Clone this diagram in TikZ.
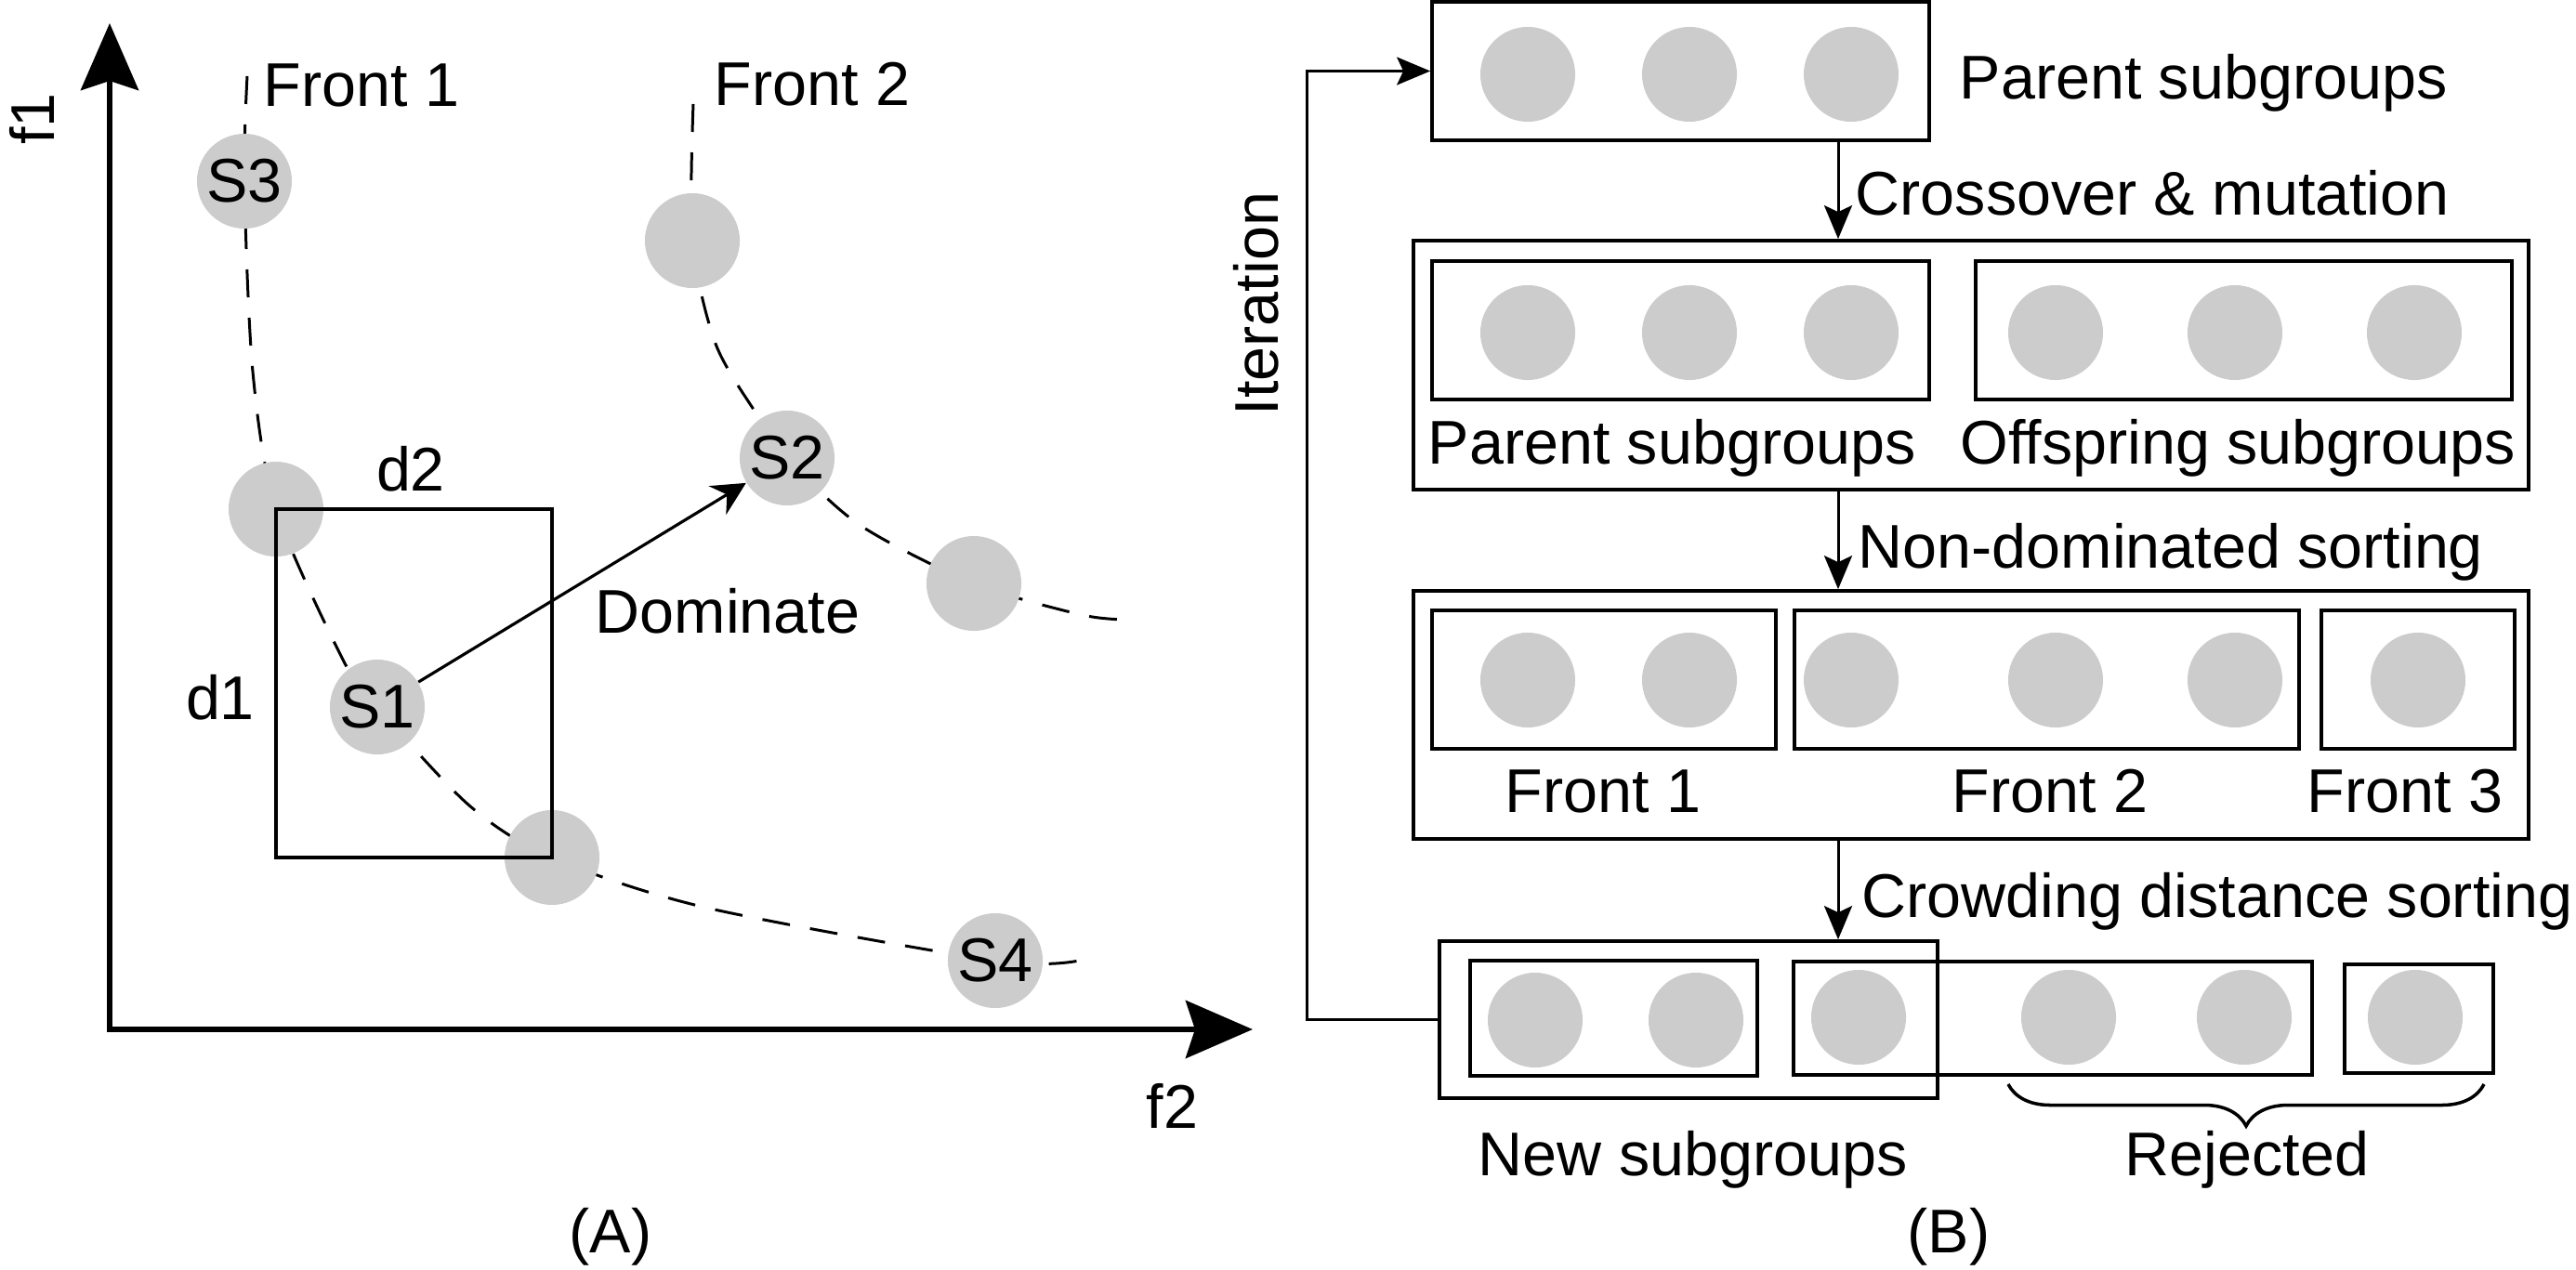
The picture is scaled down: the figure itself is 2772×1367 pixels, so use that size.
\documentclass[tikz,border=0pt]{standalone}
\usepackage{fontspec}
\setmainfont{Liberation Sans}
\usetikzlibrary{arrows.meta,fit,decorations.pathreplacing}
\definecolor{dotgray}{RGB}{204,204,204}
\tikzset{
	dot/.style={circle,fill=dotgray,inner sep=0pt,minimum size=1.02cm},
	box/.style={draw,line width=1.05pt,inner sep=0pt,fit={#1}},
	lbl/.style={inner sep=0pt,anchor=base west},
	flow/.style={line width=0.85pt,-{Stealth[length=0.36cm,width=0.3cm,inset=0.07cm]}},
	front/.style={line width=0.85pt,dash pattern=on 0.3cm off 0.22cm}
}
\begin{document}
\begin{tikzpicture}[x=0.01cm,y=-0.01cm,font=\fontsize{18.9}{22}\selectfont]
	\useasboundingbox (0,0) rectangle (2772,1367);
	\path (118,1108) coordinate (O) (118,25) coordinate (ytip) (1348,1108) coordinate (xtip)
	(263,195) coordinate (s3) (297,548) coordinate (u1) (406,761) coordinate (s1)
	(594,923) coordinate (u2) (1071,1034) coordinate (s4) (745,259) coordinate (u3)
	(847,493) coordinate (s2) (1048,628) coordinate (u4);
	\draw[line width=1.7pt,{Stealth[length=0.72cm,width=0.62cm,inset=0.1cm]}-{Stealth[length=0.72cm,width=0.62cm,inset=0.1cm]}] (ytip)--(O)--(xtip);
	\draw[front] plot[smooth] coordinates {(266,82) (s3) (272,400) (u1) (370,712) (s1) (505,867) (u2) (760,977) (s4) (1161,1034)};
	\draw[front] plot[smooth] coordinates {(746,112) (u3) (770,370) (815,447) (s2) (925,565) (u4) (1165,662) (1217,667)};
	\foreach \c/\t in {s1/S1,s2/S2,s3/S3,s4/S4,u1/,u2/,u3/,u4/}{
		\node[dot] (n\c) at (\c) {\t};
	}
	\draw[line width=1pt] (u1) rectangle (u2);
	\draw[line width=0.9pt,-{Stealth[length=0.36cm,width=0.36cm,inset=0.12cm]}] (ns1)--(ns2);
	\node[lbl] (fr1) at (283,115) {Front 1};
	\node[lbl] (fr2) at (768,114) {Front 2};
	\node[lbl,anchor=base] (d2) at (442,529) {d2};
	\node[lbl,anchor=base] (d1) at (237,774) {d1};
	\node[lbl] (dom) at (640,682) {Dominate};
	\node[lbl] (f2) at (1233,1214) {f2};
	\node[lbl,anchor=base,rotate=90] (f1) at (58,128) {f1};
	\node[lbl,anchor=base] (capA) at (657,1348) {(A)};
	\node[lbl,anchor=base,rotate=90] (iter) at (1375,327) {Iteration};
	\node[box={(1541,2) (2076,151)}] (par) {};
	\node[box={(1521,259) (2721,527)}] (mix) {};
	\node[box={(1541,281) (2076,430)}] (mixp) {};
	\node[box={(2126,281) (2703,430)}] (mixo) {};
	\node[box={(1521,636) (2721,903)}] (srt) {};
	\node[box={(1541,657) (1911,806)}] (fa) {};
	\node[box={(1931,657) (2474,806)}] (fb) {};
	\node[box={(2498,657) (2706,806)}] (fc) {};
	\node[box={(1549,1013) (2085,1182)}] (new) {};
	\node[box={(1582,1034) (1891,1158)}] (na) {};
	\node[box={(1930,1035) (2488,1157)}] (nb) {};
	\node[box={(2523,1038) (2683,1155)}] (nc) {};
	\foreach \x/\y [count=\i] in {1644/80,1818/80,1992/80,1644/358,1818/358,1992/358,
		2212/358,2405/358,2598/358,1644/732,1818/732,1992/732,2212/732,2405/732,2602/732,
		1652/1098,1825/1098,2000/1095,2226/1095,2415/1095,2599/1095}{
		\node[dot] (b\i) at (\x,\y) {};
	}
	\coordinate (ax) at (1978,0);
	\coordinate (lp) at (1406,0);
	\draw[flow] (par.south -| ax)--(mix.north -| ax);
	\draw[flow] (mix.south -| ax)--(srt.north -| ax);
	\draw[flow] (srt.south -| ax)--(new.north -| ax);
	\draw[flow] (new.west)--(new.west -| lp) |- (par.west);
	\node[lbl] (t1) at (2108,107) {Parent subgroups};
	\node[lbl] (t2) at (1996,232) {Crossover \& mutation};
	\node[lbl] (t3) at (1536,500) {Parent subgroups};
	\node[lbl] (t4) at (2109,500) {Offspring subgroups};
	\node[lbl] (t5) at (1999,612) {Non-dominated sorting};
	\node[lbl] (t6) at (1619,874) {Front 1};
	\node[lbl] (t7) at (2100,874) {Front 2};
	\node[lbl] (t8) at (2482,874) {Front 3};
	\node[lbl] (t9) at (2003,987) {Crowding distance sorting};
	\node[lbl] (t10) at (1590,1265) {New subgroups};
	\node[lbl] (t11) at (2286,1265) {Rejected};
	\node[lbl,anchor=base] (capB) at (2097,1348) {(B)};
	\path (2161,1167) coordinate (rj1) (2673,1167) coordinate (rj2);
	\draw[line width=1pt,decorate,decoration={brace,mirror,amplitude=0.45cm}] (rj1)--(rj2);
\end{tikzpicture}
\end{document}
